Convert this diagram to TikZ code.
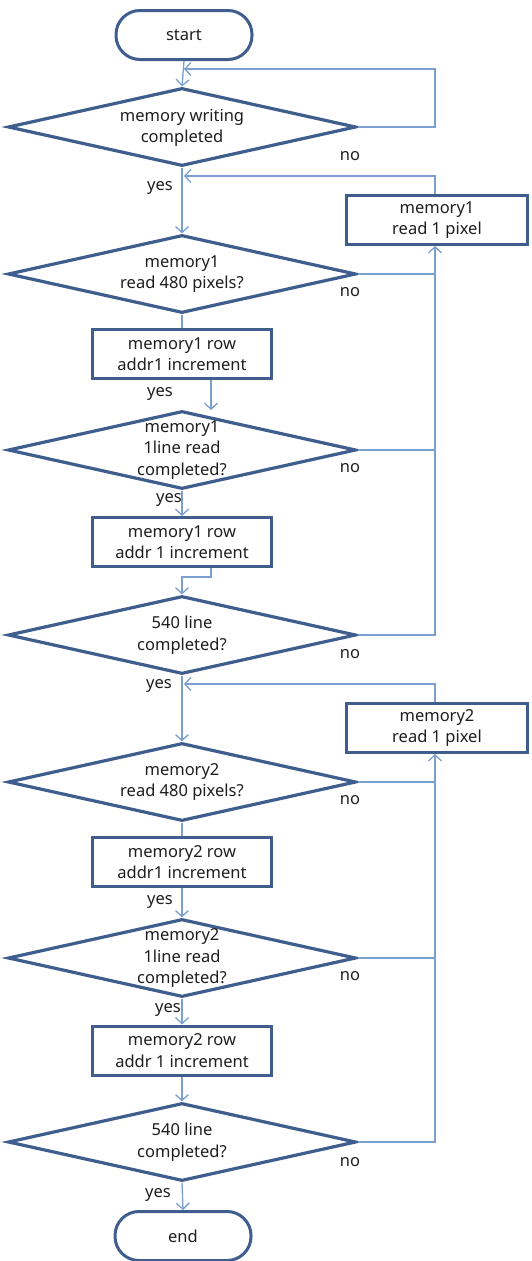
\documentclass[tikz,border=0pt]{standalone}
\usepackage{fontspec}
\setmainfont{Noto Sans}
\usetikzlibrary{shapes.geometric,arrows.meta}
\definecolor{bord}{HTML}{3F5E8E}
\definecolor{conn}{HTML}{7A9FD0}
\definecolor{txt}{HTML}{1E1E1E}
\tikzset{
  every node/.style={text=txt,font=\fontsize{16.5}{21.5}\selectfont},
  terminal/.style={draw=bord,line width=3pt,rectangle,rounded corners=24pt,minimum width=136pt,minimum height=49pt,inner sep=0pt},
  decision/.style={draw=bord,line width=3.2pt,diamond,minimum width=348pt,minimum height=78pt,inner sep=0pt},
  process/.style={draw=bord,line width=3pt,rectangle,minimum width=179pt,minimum height=49pt,inner sep=0pt,align=center},
  dtext/.style={align=center,inner sep=0pt},
  lbl/.style={inner sep=0pt},
  conline/.style={draw=conn,line width=1.3pt},
  conarrow/.style={conline,-{Straight Barb[length=6pt,width=13pt,line width=1.3pt]}}
}
\begin{document}
\begin{tikzpicture}[x=1pt,y=-1pt]
\useasboundingbox (0,0) rectangle (532,1261);
% nodes
\node[terminal] (start) at (184,35) {start};
\node[decision] (d1) at (182,127) {};
\node[dtext] (d1t) at (182,128) {memory writing\\completed};
\node[process,minimum width=181pt] (r1) at (437,220) {memory1\\read 1 pixel};
\node[decision] (d2) at (182,274) {};
\node[dtext] (d2t) at (182,274) {memory1\\read 480 pixels?};
\node[process] (b1) at (182,354) {memory1 row\\addr1 increment};
\node[decision] (d3) at (182,450) {};
\node[dtext] (d3t) at (182,450) {memory1\\1line read\\completed?};
\node[process] (b2) at (182,542) {memory1 row\\addr 1 increment};
\node[decision] (d4) at (182,635) {};
\node[dtext] (d4t) at (182,635) {540 line\\completed?};
\node[process,minimum width=181pt] (r2) at (437,728) {memory2\\read 1 pixel};
\node[decision] (d5) at (182,782) {};
\node[dtext] (d5t) at (182,782) {memory2\\read 480 pixels?};
\node[process] (b3) at (182,862) {memory2 row\\addr1 increment};
\node[decision] (d6) at (182,958) {};
\node[dtext] (d6t) at (182,958) {memory2\\1line read\\completed?};
\node[process] (b4) at (182,1050.5) {memory2 row\\addr 1 increment};
\node[decision] (d7) at (182,1142) {};
\node[dtext] (d7t) at (182,1142) {540 line\\completed?};
\node[terminal] (end) at (183,1236) {end};
% labels
\node[lbl] (n1) at (350,156) {no};
\node[lbl] (n2) at (350,292) {no};
\node[lbl] (n3) at (350,468) {no};
\node[lbl] (n4) at (350,654) {no};
\node[lbl] (n5) at (350,800) {no};
\node[lbl] (n6) at (350,976) {no};
\node[lbl] (n7) at (350,1162) {no};
\node[lbl] (y1) at (160,188) {yes};
\node[lbl] (y2) at (160,394) {yes};
\node[lbl] (y3) at (169,500) {yes};
\node[lbl] (y4) at (159,686) {yes};
\node[lbl] (y5) at (160,902) {yes};
\node[lbl] (y6) at (168,1010) {yes};
\node[lbl] (y7) at (158,1195) {yes};
% coordinates
\coordinate (c0) at (184,69);
\coordinate (c1) at (184,176);
\coordinate (c2) at (211,410);
\coordinate (c3) at (211,577);
\coordinate (c4) at (184,684);
% connectors
\draw[conarrow] (start.south) -- (d1.north);
\draw[conarrow] (d1.east) -| (435,69) -- (c0);
\draw[conarrow] (d1.south) -- (d2.north);
\draw[conarrow] (r1.north -| 435,0) |- (c1);
\draw[conline] (d2.east) -- (d2.east -| 435,0);
\draw[conline] (d3.east) -- (d3.east -| 435,0);
\draw[conarrow] (d4.east) -| (r1.south -| 435,0);
\draw[conline] (d2.south) -- (b1.north);
\draw[conarrow] (b1.south -| c2) -- (c2);
\draw[conarrow] (d3.south) -- (b2.north);
\draw[conarrow] (b2.south -| c3) -- (c3) -| (d4.north);
\draw[conarrow] (d4.south) -- (d5.north);
\draw[conarrow] (r2.north -| 435,0) |- (c4);
\draw[conline] (d5.east) -- (d5.east -| 435,0);
\draw[conline] (d6.east) -- (d6.east -| 435,0);
\draw[conarrow] (d7.east) -| (r2.south -| 435,0);
\draw[conline] (d5.south) -- (b3.north);
\draw[conarrow] (b3.south) -- (d6.north);
\draw[conarrow] (d6.south) -- (b4.north);
\draw[conarrow] (b4.south) -- (d7.north);
\draw[conarrow] (d7.south) -- (end.north);
\end{tikzpicture}
\end{document}
